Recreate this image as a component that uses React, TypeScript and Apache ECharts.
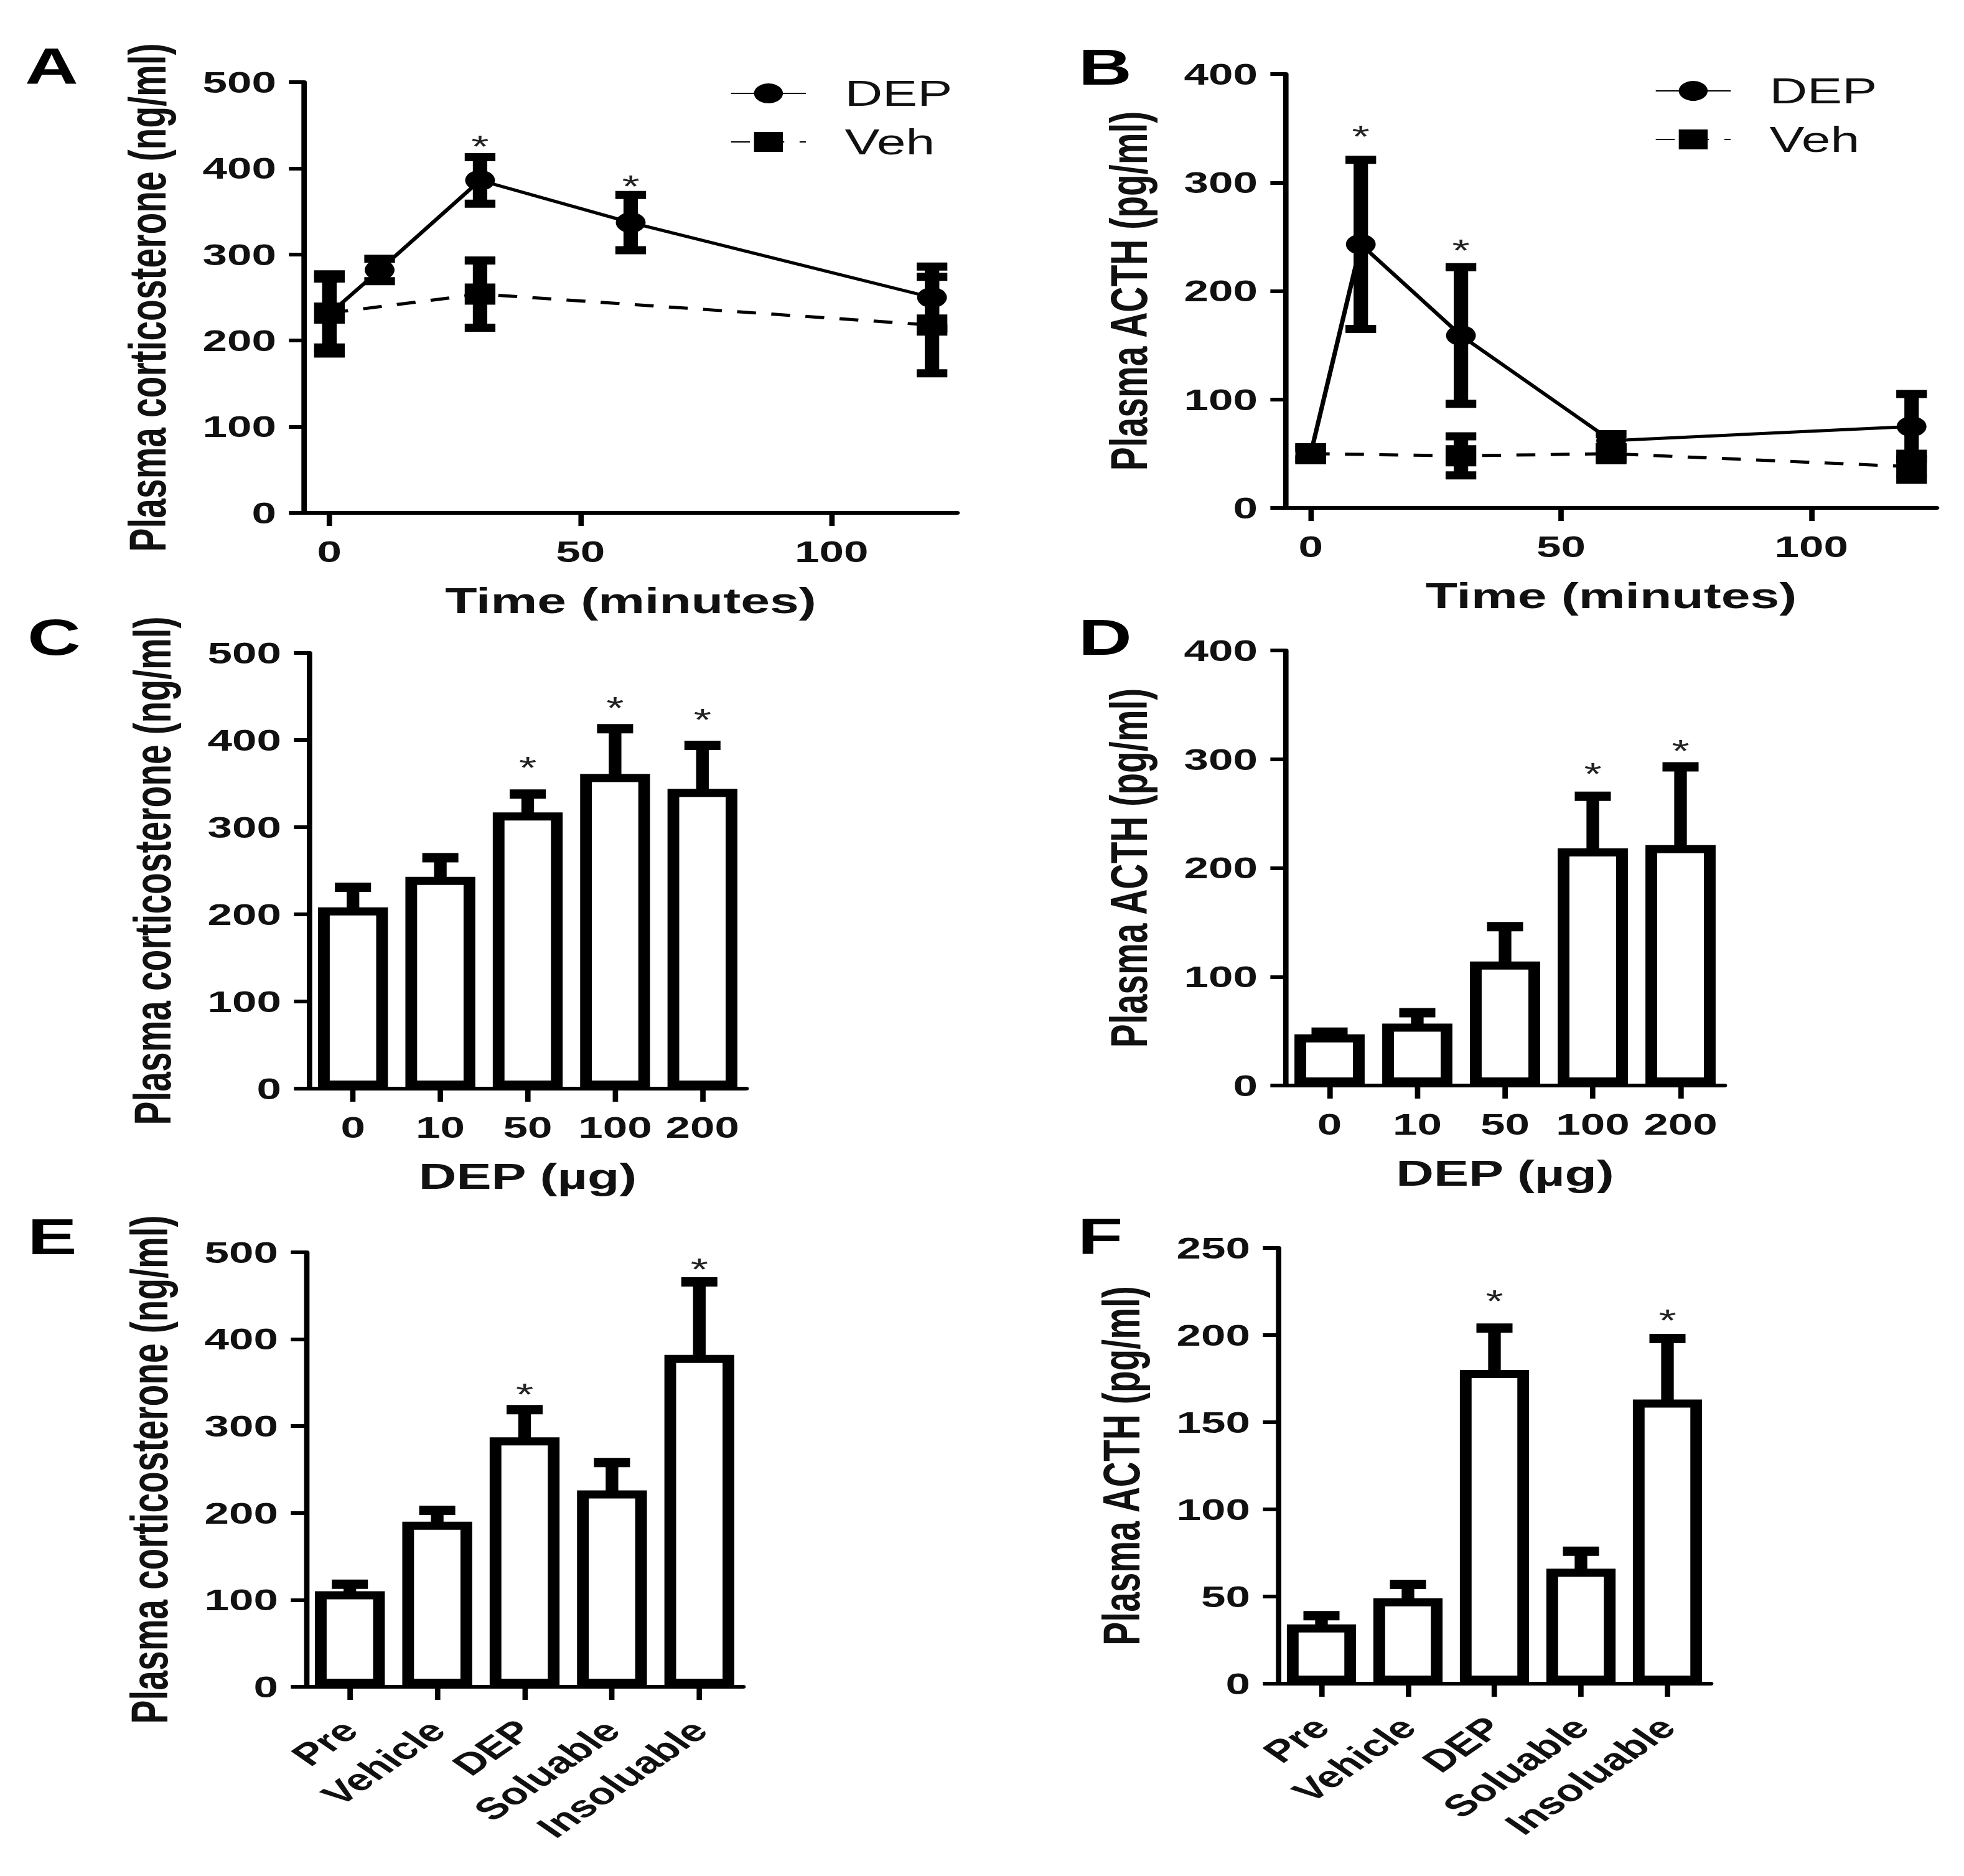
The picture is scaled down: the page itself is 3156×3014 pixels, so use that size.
import React, { useEffect, useRef } from 'react';
import * as echarts from 'echarts';

// ---------- data ----------
// Panel A: plasma corticosterone time course
const timeDEP_A = [0, 10, 30, 60, 120];
const meanDEP_A = [231, 282, 386, 337, 250];
const semDEP_A = [46, 13, 27, 32, 36];
const timeVeh_A = [0, 30, 120];
const meanVeh_A = [232, 254, 218];
const semVeh_A = [40, 39, 56];
const starsA = [[30, 432], [60, 386]];

// Panel B: plasma ACTH time course
const timeDEP_B = [0, 10, 30, 60, 120];
const meanDEP_B = [50, 243, 159, 62, 75];
const semDEP_B = [5, 78, 63, 6, 30];
const timeVeh_B = [0, 30, 60, 120];
const meanVeh_B = [50, 48, 50, 38];
const semVeh_B = [6, 18, 5, 12];
const starsB = [[10, 348], [30, 243]];

// Panels C/D: dose response
const doseCats = ['0', '10', '50', '100', '200'];
const meanC = [208, 243, 317, 361, 344];
const errTopC = [231, 265, 338, 413, 394];
const starsC = [[2, 375], [3, 444], [4, 430]];
const meanD = [47, 57, 114, 218, 221];
const errTopD = [49, 67, 146, 266, 293];
const starsD = [[3, 292], [4, 313]];

// Panels E/F: fractions
const treatCats = ['Pre', 'Vehicle', 'DEP', 'Soluable', 'Insoluable'];
const meanE = [110, 190, 287, 226, 382];
const errTopE = [118, 203, 319, 258, 466];
const starsE = [[2, 343], [4, 487]];
const meanF = [34, 49, 180, 66, 163];
const errTopF = [39, 57, 204, 76, 198];
const starsF = [[2, 223], [4, 212]];

const timeTicks = [0, 50, 100];

// ---------- layout ----------
const S = 1.45; // horizontal stretch of the original figure
const W = 3156;
const H = 3014;
const W0 = Math.round(W / S);
const FONT = '"Liberation Sans", Arial, Helvetica, sans-serif';

const zip2 = (a: number[], b: number[]) => a.map((v, i) => [v, b[i]]);
const zip3 = (a: number[], b: number[], c: number[]) => a.map((v, i) => [v, b[i], c[i]]);

const labelFont = { fontFamily: FONT, fontSize: 49, fontWeight: 'bold' as const, color: '#111' };
const nameFont = { fontFamily: FONT, fontSize: 58, fontWeight: 'bold' as const, color: '#111' };
const axLine = { show: true, onZero: false, lineStyle: { color: '#000', width: 6 } };

function yAxis(grid: number, max: number, interval: number, name: string) {
  return {
    type: 'value', gridIndex: grid, min: 0, max, interval,
    axisLine: axLine,
    axisTick: { show: true, inside: false, length: 17, lineStyle: { color: '#000', width: 6 } },
    axisLabel: { ...labelFont, margin: 31 },
    splitLine: { show: false },
    name, nameLocation: 'middle', nameGap: 145, nameTextStyle: { ...nameFont, fontSize: 57 },
  };
}

function timeAxis(grid: number) {
  return {
    type: 'value', gridIndex: grid, min: -5, max: 125,
    axisLine: axLine,
    axisTick: { show: true, length: 21, lineStyle: { color: '#000', width: 6 }, customValues: timeTicks },
    axisLabel: { ...labelFont, margin: 38, customValues: timeTicks },
    splitLine: { show: false },
    name: 'Time (minutes)', nameLocation: 'middle', nameGap: 112, nameTextStyle: nameFont,
  };
}

function catAxis(grid: number, cats: string[], name: string | null, rotate: number) {
  return {
    type: 'category', gridIndex: grid, data: cats, boundaryGap: true,
    axisLine: axLine,
    axisTick: { show: true, alignWithLabel: true, length: 21, lineStyle: { color: '#000', width: 6 } },
    axisLabel: { ...labelFont, interval: 0, margin: rotate ? 62 : 38, rotate },
    splitLine: { show: false },
    name: name || '', nameLocation: 'middle', nameGap: 112, nameTextStyle: nameFont,
  };
}

function symErr(params: any, api: any) {
  const x = api.value(0), m = api.value(1), e = api.value(2);
  const hi = api.coord([x, m + e]);
  const lo = api.coord([x, m - e]);
  const cw = 34;
  return {
    type: 'group', children: [
      { type: 'line', shape: { x1: hi[0], y1: hi[1], x2: lo[0], y2: lo[1] }, style: { stroke: '#000', lineWidth: 16 } },
      { type: 'line', shape: { x1: hi[0] - cw / 2, y1: hi[1], x2: hi[0] + cw / 2, y2: hi[1] }, style: { stroke: '#000', lineWidth: 13 } },
      { type: 'line', shape: { x1: lo[0] - cw / 2, y1: lo[1], x2: lo[0] + cw / 2, y2: lo[1] }, style: { stroke: '#000', lineWidth: 13 } },
    ],
  };
}

function barErr(params: any, api: any) {
  const i = api.value(0), m = api.value(1), t = api.value(2);
  const p0 = api.coord([i, m]);
  const p1 = api.coord([i, t]);
  const cw = 40;
  return {
    type: 'group', children: [
      { type: 'line', shape: { x1: p0[0], y1: p0[1] + 4, x2: p1[0], y2: p1[1] }, style: { stroke: '#000', lineWidth: 14 } },
      { type: 'line', shape: { x1: p1[0] - cw / 2, y1: p1[1], x2: p1[0] + cw / 2, y2: p1[1] }, style: { stroke: '#000', lineWidth: 15 } },
    ],
  };
}

function starItem(params: any, api: any) {
  const p = api.coord([api.value(0), api.value(1)]);
  return {
    type: 'text', x: p[0], y: p[1] + 10,
    style: { text: '*', fontSize: 50, fontFamily: FONT, fill: '#222', align: 'center', verticalAlign: 'middle', textAlign: 'center', textVerticalAlign: 'middle' },
  };
}

function lineSeries(name: string, grid: number, xs: number[], ys: number[], dashed: boolean) {
  return {
    type: 'line', name, xAxisIndex: grid, yAxisIndex: grid,
    data: zip2(xs, ys),
    symbol: dashed ? 'rect' : 'circle', symbolSize: dashed ? 34 : 33,
    lineStyle: { color: '#000', width: 5, type: dashed ? [21, 17] : 'solid' },
    itemStyle: { color: '#000' },
    z: 3,
  };
}

function errSeries(grid: number, xs: number[], ys: number[], es: number[]) {
  return { type: 'custom', xAxisIndex: grid, yAxisIndex: grid, data: zip3(xs, ys, es), renderItem: symErr, z: 4, silent: true };
}

function barSeries(grid: number, means: number[]) {
  return {
    type: 'bar', xAxisIndex: grid, yAxisIndex: grid, data: means, barWidth: '80%',
    itemStyle: { color: '#fff', borderColor: '#000', borderWidth: 13 }, z: 2,
  };
}

function barErrSeries(grid: number, means: number[], tops: number[]) {
  return { type: 'custom', xAxisIndex: grid, yAxisIndex: grid, data: means.map((m, i) => [i, m, tops[i]]), renderItem: barErr, z: 3, silent: true };
}

function starSeries(grid: number, pts: number[][]) {
  return { type: 'custom', xAxisIndex: grid, yAxisIndex: grid, data: pts, renderItem: starItem, z: 5, silent: true };
}

function legend(left: number, top: number) {
  return {
    data: ['DEP', 'Veh'], orient: 'vertical', left, top,
    itemWidth: 83, itemHeight: 40, itemGap: 20, selectedMode: false,
    textStyle: { fontFamily: FONT, fontSize: 58, color: '#111', padding: [0, 0, 0, 38] },
  };
}

function letter(t: string, x: number, y: number) {
  return {
    type: 'text', x, y,
    style: { text: t, fontFamily: FONT, fontSize: 82, fontWeight: 'bold', fill: '#000', align: 'center', verticalAlign: 'middle' },
  };
}

const option: any = {
  animation: false,
  backgroundColor: '#fff',
  grid: [
    { left: 489 / S, top: 132, width: 1049 / S, height: 692, containLabel: false, outerBoundsMode: 'none' },
    { left: 2066 / S, top: 119, width: 1046 / S, height: 697, containLabel: false, outerBoundsMode: 'none' },
    { left: 497 / S, top: 1049, width: 702 / S, height: 700, containLabel: false, outerBoundsMode: 'none' },
    { left: 2066 / S, top: 1045, width: 705 / S, height: 699, containLabel: false, outerBoundsMode: 'none' },
    { left: 492 / S, top: 2012, width: 702 / S, height: 698, containLabel: false, outerBoundsMode: 'none' },
    { left: 2054 / S, top: 2005, width: 695 / S, height: 700, containLabel: false, outerBoundsMode: 'none' },
  ],
  xAxis: [
    timeAxis(0),
    timeAxis(1),
    catAxis(2, doseCats, 'DEP (µg)', 0),
    catAxis(3, doseCats, 'DEP (µg)', 0),
    catAxis(4, treatCats, null, 45),
    catAxis(5, treatCats, null, 45),
  ],
  yAxis: [
    yAxis(0, 500, 100, 'Plasma corticosterone (ng/ml)'),
    yAxis(1, 400, 100, 'Plasma ACTH (pg/ml)'),
    yAxis(2, 500, 100, 'Plasma corticosterone (ng/ml)'),
    yAxis(3, 400, 100, 'Plasma ACTH (pg/ml)'),
    yAxis(4, 500, 100, 'Plasma corticosterone (ng/ml)'),
    yAxis(5, 250, 50, 'Plasma ACTH (pg/ml)'),
  ],
  legend: [legend(1166 / S, 116), legend(2652 / S, 112)],
  series: [
    // A
    lineSeries('Veh', 0, timeVeh_A, meanVeh_A, true),
    lineSeries('DEP', 0, timeDEP_A, meanDEP_A, false),
    errSeries(0, timeVeh_A, meanVeh_A, semVeh_A),
    errSeries(0, timeDEP_A, meanDEP_A, semDEP_A),
    starSeries(0, starsA),
    // B
    lineSeries('Veh', 1, timeVeh_B, meanVeh_B, true),
    lineSeries('DEP', 1, timeDEP_B, meanDEP_B, false),
    errSeries(1, timeVeh_B, meanVeh_B, semVeh_B),
    errSeries(1, timeDEP_B, meanDEP_B, semDEP_B),
    starSeries(1, starsB),
    // C
    barSeries(2, meanC), barErrSeries(2, meanC, errTopC), starSeries(2, starsC),
    // D
    barSeries(3, meanD), barErrSeries(3, meanD, errTopD), starSeries(3, starsD),
    // E
    barSeries(4, meanE), barErrSeries(4, meanE, errTopE), starSeries(4, starsE),
    // F
    barSeries(5, meanF), barErrSeries(5, meanF, errTopF), starSeries(5, starsF),
  ],
  graphic: [
    letter('A', 83 / S, 106),
    letter('B', 1776 / S, 108),
    letter('C', 87 / S, 1024),
    letter('D', 1776 / S, 1024),
    letter('E', 84 / S, 1987),
    letter('F', 1768 / S, 1987),
  ],
};

export default function App() {
  const ref = useRef<HTMLDivElement>(null);
  useEffect(() => {
    if (!ref.current) return;
    const chart = echarts.init(ref.current, null, { renderer: 'svg', width: W0, height: H });
    chart.setOption(option);
    return () => chart.dispose();
  }, []);
  return (
    <div style={{ position: 'absolute', left: 0, top: 0, width: W, height: H, overflow: 'hidden', background: '#fff' }}>
      <div ref={ref} style={{ width: W0, height: H, transform: `scaleX(${S})`, transformOrigin: '0 0' }} />
    </div>
  );
}
